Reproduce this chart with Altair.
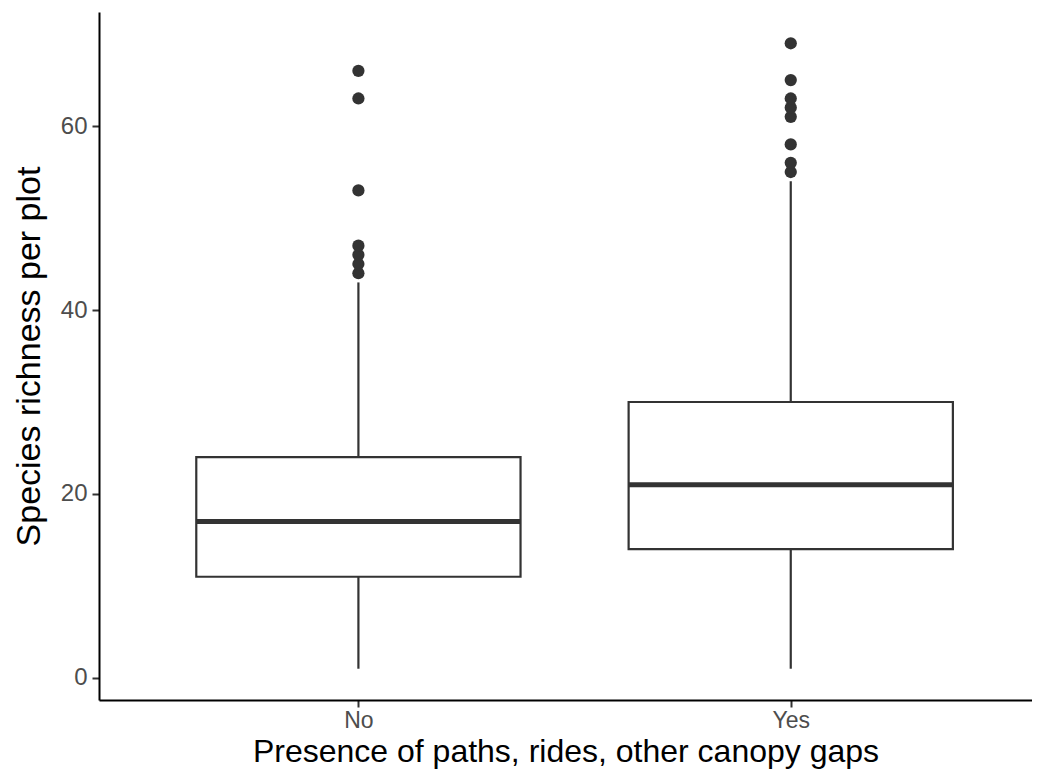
import altair as alt
import pandas as pd

# ---- data ----
groups = ["No", "Yes"]
positions = [1, 2]
whisker_low = [1, 1]
q1 = [11, 14]
median = [17, 21]
q3 = [24, 30]
whisker_high = [43, 54]
outliers_no = [44, 45, 46, 47, 53, 63, 66]
outliers_yes = [55, 56, 58, 61, 62, 63, 65, 69]
y_ticks = [0, 20, 40, 60]

box_half = 0.375

boxes = pd.DataFrame({
    "group": groups,
    "pos": positions,
    "lo": whisker_low,
    "q1": q1,
    "med": median,
    "q3": q3,
    "hi": whisker_high,
})
boxes["xlo"] = boxes["pos"] - box_half
boxes["xhi"] = boxes["pos"] + box_half

out_df = pd.DataFrame({
    "group": ["No"] * len(outliers_no) + ["Yes"] * len(outliers_yes),
    "val": outliers_no + outliers_yes,
})
out_df["pos"] = out_df["group"].map(dict(zip(groups, positions)))

label_expr = " : ".join(
    [f"datum.value == {p} ? '{g}'" for p, g in zip(positions, groups)]
) + " : ''"

FONT = "Liberation Sans"
DARK = "#333333"

x_scale = alt.Scale(domain=[0.4, 2.558], nice=False, zero=False)
y_scale = alt.Scale(domain=[-2.4, 72.4], nice=False, zero=False)

x_axis = alt.Axis(
    values=positions, labelExpr=label_expr,
    title="Presence of paths, rides, other canopy gaps",
    grid=False, domainColor="black", domainWidth=2,
    tickColor=DARK, tickWidth=2, tickSize=7,
    labelColor="#4d4d4d", labelFontSize=23, labelFont=FONT, labelPadding=2,
    titleFont=FONT, titleFontSize=32, titleFontWeight="normal", titleColor="black",
    titlePadding=4,
)
y_axis = alt.Axis(
    values=y_ticks, title="Species richness per plot",
    grid=False, domainColor="black", domainWidth=2,
    tickColor=DARK, tickWidth=2, tickSize=7,
    labelColor="#4d4d4d", labelFontSize=24, labelFont=FONT, labelPadding=5,
    titleFont=FONT, titleFontSize=34, titleFontWeight="normal", titleColor="black",
    titlePadding=14,
)

base = alt.Chart(boxes)

lower = base.mark_rule(color=DARK, strokeWidth=2.2).encode(
    x=alt.X("pos:Q", scale=x_scale, axis=x_axis),
    y=alt.Y("lo:Q", scale=y_scale, axis=y_axis),
    y2="q1:Q",
)
upper = base.mark_rule(color=DARK, strokeWidth=2.2).encode(
    x=alt.X("pos:Q", scale=x_scale),
    y=alt.Y("q3:Q", scale=y_scale),
    y2="hi:Q",
)
box = base.mark_rect(fill="white", stroke=DARK, strokeWidth=2.2).encode(
    x=alt.X("xlo:Q", scale=x_scale),
    x2="xhi:Q",
    y=alt.Y("q1:Q", scale=y_scale),
    y2="q3:Q",
)
med = base.mark_rule(color=DARK, strokeWidth=5).encode(
    x=alt.X("xlo:Q", scale=x_scale),
    x2="xhi:Q",
    y=alt.Y("med:Q", scale=y_scale),
)
pts = alt.Chart(out_df).mark_circle(color=DARK, opacity=1, size=150).encode(
    x=alt.X("pos:Q", scale=x_scale),
    y=alt.Y("val:Q", scale=y_scale),
)

chart = alt.layer(lower, upper, box, med, pts).properties(
    width=933, height=688,
    autosize=alt.AutoSizeParams(type="none"),
    padding={"left": 91, "top": 4, "right": 0, "bottom": 74},
).configure_view(stroke=None)

chart.save("out.html", embed_options={"renderer": "svg", "actions": False})
